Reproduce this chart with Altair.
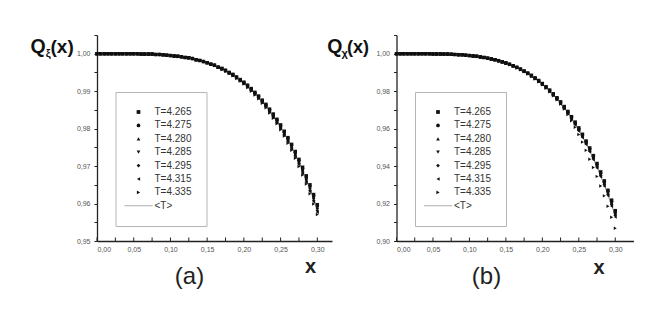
import altair as alt
import pandas as pd

# ---------------- data ----------------
X = [0.000, 0.005, 0.010, 0.015, 0.020, 0.025, 0.030, 0.035, 0.040, 0.045,
     0.050, 0.055, 0.060, 0.065, 0.070, 0.075, 0.080, 0.085, 0.090, 0.095,
     0.100, 0.105, 0.110, 0.115, 0.120, 0.125, 0.130, 0.135, 0.140, 0.145,
     0.150, 0.155, 0.160, 0.165, 0.170, 0.175, 0.180, 0.185, 0.190, 0.195,
     0.200, 0.205, 0.210, 0.215, 0.220, 0.225, 0.230, 0.235, 0.240, 0.245,
     0.250, 0.255, 0.260, 0.265, 0.270, 0.275, 0.280, 0.285, 0.290, 0.295,
     0.300]

SERIES = ["T=4.265", "T=4.275", "T=4.280", "T=4.285", "T=4.295", "T=4.315", "T=4.335"]
SHAPES = ["square", "circle", "triangle-up", "triangle-down", "diamond",
          "triangle-left", "triangle-right"]
MEAN_LABEL = "<T>"

# panel (a): Q_xi(x), x = 0.000 .. 0.165 identical for all T
QA_START = [1.0000, 1.0000, 1.0000, 1.0000, 1.0000, 1.0000, 1.0000, 1.0000,
            1.0000, 1.0000, 1.0000, 1.0000, 0.9999, 0.9999, 0.9999, 0.9999,
            0.9998, 0.9998, 0.9997, 0.9996, 0.9995, 0.9994, 0.9993, 0.9992,
            0.9990, 0.9989, 0.9987, 0.9984, 0.9982, 0.9979, 0.9976, 0.9972,
            0.9969, 0.9964]
QA_T4265 = QA_START + [0.9961, 0.9956, 0.9950, 0.9945, 0.9938, 0.9931, 0.9924, 0.9916, 0.9907,
                       0.9897, 0.9887, 0.9876, 0.9865, 0.9852, 0.9839, 0.9825, 0.9810, 0.9793,
                       0.9776, 0.9758, 0.9739, 0.9718, 0.9697, 0.9674, 0.9650, 0.9624, 0.9597]
QA_T4275 = QA_START + [0.9960, 0.9955, 0.9950, 0.9944, 0.9937, 0.9930, 0.9923, 0.9915, 0.9906,
                       0.9896, 0.9886, 0.9875, 0.9863, 0.9851, 0.9837, 0.9823, 0.9808, 0.9791,
                       0.9774, 0.9756, 0.9736, 0.9715, 0.9693, 0.9670, 0.9646, 0.9620, 0.9593]
QA_T4280 = QA_START + [0.9960, 0.9955, 0.9949, 0.9943, 0.9937, 0.9930, 0.9922, 0.9914, 0.9905,
                       0.9895, 0.9885, 0.9874, 0.9862, 0.9849, 0.9835, 0.9821, 0.9806, 0.9789,
                       0.9772, 0.9753, 0.9733, 0.9713, 0.9690, 0.9667, 0.9642, 0.9616, 0.9589]
QA_T4285 = QA_START + [0.9960, 0.9954, 0.9949, 0.9943, 0.9936, 0.9929, 0.9921, 0.9913, 0.9904,
                       0.9894, 0.9884, 0.9873, 0.9861, 0.9848, 0.9834, 0.9819, 0.9804, 0.9787,
                       0.9769, 0.9751, 0.9731, 0.9710, 0.9687, 0.9664, 0.9639, 0.9613, 0.9585]
QA_T4295 = QA_START + [0.9959, 0.9954, 0.9948, 0.9942, 0.9936, 0.9928, 0.9921, 0.9912, 0.9903,
                       0.9893, 0.9883, 0.9871, 0.9859, 0.9846, 0.9832, 0.9817, 0.9802, 0.9785,
                       0.9767, 0.9748, 0.9728, 0.9707, 0.9684, 0.9660, 0.9635, 0.9609, 0.9581]
QA_T4315 = QA_START + [0.9959, 0.9954, 0.9948, 0.9942, 0.9935, 0.9928, 0.9920, 0.9911, 0.9902,
                       0.9892, 0.9881, 0.9870, 0.9858, 0.9845, 0.9830, 0.9816, 0.9800, 0.9783,
                       0.9765, 0.9746, 0.9725, 0.9704, 0.9681, 0.9657, 0.9632, 0.9605, 0.9577]
QA_T4335 = QA_START + [0.9958, 0.9953, 0.9947, 0.9941, 0.9934, 0.9927, 0.9919, 0.9910, 0.9900,
                       0.9890, 0.9880, 0.9868, 0.9856, 0.9842, 0.9828, 0.9813, 0.9797, 0.9780,
                       0.9761, 0.9742, 0.9721, 0.9699, 0.9676, 0.9652, 0.9626, 0.9599, 0.9571]

# panel (b): Q_chi(x), x = 0.000 .. 0.135 identical for all T
QB_START = [1.0000, 1.0000, 1.0000, 1.0000, 1.0000, 1.0000, 1.0000, 1.0000,
            1.0000, 1.0000, 0.9999, 0.9999, 0.9999, 0.9998, 0.9998, 0.9997,
            0.9996, 0.9995, 0.9994, 0.9992, 0.9990, 0.9988, 0.9986, 0.9983,
            0.9980, 0.9976, 0.9972, 0.9968]
QB_T4265 = QB_START + [0.9963, 0.9957, 0.9951, 0.9944, 0.9936, 0.9928, 0.9918, 0.9908, 0.9897,
                       0.9885, 0.9871, 0.9857, 0.9841, 0.9824, 0.9806, 0.9786, 0.9765, 0.9743,
                       0.9718, 0.9692, 0.9664, 0.9635, 0.9604, 0.9570, 0.9534, 0.9497, 0.9456,
                       0.9414, 0.9369, 0.9321, 0.9271, 0.9218, 0.9162]
QB_T4275 = QB_START + [0.9963, 0.9957, 0.9951, 0.9944, 0.9936, 0.9927, 0.9918, 0.9907, 0.9896,
                       0.9883, 0.9870, 0.9855, 0.9840, 0.9822, 0.9804, 0.9784, 0.9763, 0.9740,
                       0.9716, 0.9689, 0.9661, 0.9631, 0.9600, 0.9566, 0.9530, 0.9491, 0.9451,
                       0.9408, 0.9362, 0.9314, 0.9265, 0.9210, 0.9154]
QB_T4280 = QB_START + [0.9962, 0.9957, 0.9950, 0.9943, 0.9935, 0.9926, 0.9917, 0.9906, 0.9895,
                       0.9882, 0.9869, 0.9854, 0.9838, 0.9821, 0.9802, 0.9782, 0.9761, 0.9737,
                       0.9713, 0.9686, 0.9658, 0.9628, 0.9596, 0.9561, 0.9525, 0.9486, 0.9445,
                       0.9402, 0.9357, 0.9307, 0.9256, 0.9202, 0.9145]
QB_T4285 = QB_START + [0.9962, 0.9956, 0.9950, 0.9943, 0.9935, 0.9926, 0.9916, 0.9906, 0.9894,
                       0.9882, 0.9868, 0.9853, 0.9837, 0.9820, 0.9801, 0.9781, 0.9759, 0.9736,
                       0.9711, 0.9685, 0.9656, 0.9626, 0.9594, 0.9559, 0.9523, 0.9484, 0.9442,
                       0.9399, 0.9353, 0.9303, 0.9252, 0.9198, 0.9141]
QB_T4295 = QB_START + [0.9962, 0.9956, 0.9950, 0.9942, 0.9934, 0.9926, 0.9916, 0.9905, 0.9894,
                       0.9881, 0.9867, 0.9852, 0.9836, 0.9819, 0.9800, 0.9780, 0.9758, 0.9735,
                       0.9710, 0.9683, 0.9654, 0.9624, 0.9591, 0.9557, 0.9520, 0.9481, 0.9440,
                       0.9396, 0.9349, 0.9300, 0.9249, 0.9194, 0.9137]
QB_T4315 = QB_START + [0.9962, 0.9956, 0.9949, 0.9942, 0.9934, 0.9925, 0.9915, 0.9904, 0.9893,
                       0.9880, 0.9866, 0.9851, 0.9835, 0.9817, 0.9798, 0.9778, 0.9756, 0.9732,
                       0.9707, 0.9680, 0.9651, 0.9620, 0.9587, 0.9553, 0.9515, 0.9476, 0.9434,
                       0.9390, 0.9343, 0.9293, 0.9241, 0.9186, 0.9128]
QB_T4335 = QB_START + [0.9961, 0.9955, 0.9948, 0.9941, 0.9933, 0.9924, 0.9914, 0.9903, 0.9891,
                       0.9878, 0.9865, 0.9850, 0.9834, 0.9816, 0.9797, 0.9776, 0.9754, 0.9731,
                       0.9705, 0.9675, 0.9642, 0.9607, 0.9569, 0.9528, 0.9484, 0.9437, 0.9392,
                       0.9345, 0.9294, 0.9241, 0.9185, 0.9127, 0.9068]

QA = [QA_T4265, QA_T4275, QA_T4280, QA_T4285, QA_T4295, QA_T4315, QA_T4335]
QB = [QB_T4265, QB_T4275, QB_T4280, QB_T4285, QB_T4295, QB_T4315, QB_T4335]

X_TICKS = [0.000, 0.025, 0.050, 0.075, 0.100, 0.125, 0.150, 0.175, 0.200,
           0.225, 0.250, 0.275, 0.300]
YA_TICKS = [0.950, 0.955, 0.960, 0.965, 0.970, 0.975, 0.980, 0.985, 0.990,
            0.995, 1.000, 1.005]
YB_TICKS = [0.90, 0.91, 0.92, 0.93, 0.94, 0.95, 0.96, 0.97, 0.98, 0.99, 1.00, 1.01]

for lst in QA + QB:
    assert len(lst) == len(X)

FONT = "Liberation Sans"
LINE_PATH = "M-7.5,-0.22H7.5V0.22H-7.5Z"
HEIGHT = 206


def long_frame(lists):
    rows = []
    for name, vals in zip(SERIES, lists):
        for x, q in zip(X, vals):
            rows.append({"x": x, "q": q, "series": name})
    return pd.DataFrame(rows)


def text(txt, x, y, size, weight="normal", align="left", baseline="alphabetic", color="#111"):
    return alt.Chart(pd.DataFrame({"t": [txt]})).mark_text(
        align=align, baseline=baseline, fontSize=size, fontWeight=weight,
        font=FONT, color=color
    ).encode(text="t:N", x=alt.value(x), y=alt.value(y))


def comma(mod):
    return ("round(datum.value*1000) % " + str(mod) +
            " == 0 ? replace(format(datum.value, '.2f'), '.', ',') : ''")


def panel(lists, ydom, yticks, ymod, xdom, width, xt_x, xt_y, tag, tag_x,
          sub, q_x, sub_x, par_x, par_size):
    df = long_frame(lists)
    x_scale = alt.Scale(domain=xdom, nice=False, zero=False)
    x_enc = alt.X("x:Q", scale=x_scale,
                  axis=alt.Axis(values=X_TICKS, labelExpr=comma(50), title="x",
                                ticks=False, tickSize=0, labelOverlap=False,
                                titleX=xt_x, titleY=xt_y, titleAlign="center",
                                titleBaseline="middle", titleFontSize=20,
                                titleFontWeight="bold", titleFont=FONT,
                                titleColor="#222", labelPadding=4))
    y_enc = alt.Y("q:Q", scale=alt.Scale(domain=ydom, nice=False, zero=False),
                  axis=alt.Axis(values=yticks, labelExpr=comma(ymod), title=None,
                                labelPadding=4))
    legend = alt.Legend(title=None, orient="none", legendX=18.5, legendY=57,
                        padding=15, strokeColor="#b5b5b5", fillColor="white",
                        symbolSize=14, symbolOffset=3, symbolStrokeWidth=0,
                        labelOffset=11, labelFontSize=10, labelFont=FONT,
                        labelColor="#333", rowPadding=3.4)
    dom = SERIES + [MEAN_LABEL]
    # inward pointing x ticks, drawn at the axis tick values
    xticks = alt.Chart(pd.DataFrame({"x": X_TICKS})).mark_rule(
        color="#222", strokeWidth=1
    ).encode(x=x_enc, y=alt.value(HEIGHT), y2=alt.value(HEIGHT - 3.5))
    line = alt.Chart(df).transform_aggregate(
        q="mean(q)", groupby=["x"]
    ).mark_line(color="#9a9a9a", strokeWidth=1).encode(x=x_enc, y=y_enc)
    pts = alt.Chart(df).mark_point(filled=True, size=12, opacity=1).encode(
        x=x_enc, y=y_enc,
        shape=alt.Shape("series:N", scale=alt.Scale(domain=dom, range=SHAPES + [LINE_PATH]),
                        legend=legend),
        color=alt.Color("series:N", scale=alt.Scale(domain=dom, range=["#111"] * 7 + ["#9a9a9a"]),
                        legend=legend),
    )
    layers = [line, pts, xticks,
              text("Q", q_x, 17.7, 19.5, "bold"),
              text(sub, sub_x, 22, 11, "bold"),
              text("(x)", par_x, 17.7, par_size, "bold"),
              text(tag, tag_x, 242, 24, "normal", align="center", baseline="middle",
                   color="#222")]
    return alt.layer(*layers).properties(width=width, height=HEIGHT)


pa = panel(QA, [0.95, 1.005], YA_TICKS, 10, [0, 0.32], 235, 213, 25.5,
           "(a)", 92.5, "ξ", -66.5, -51.3, -46.5, 19)
pb = panel(QB, [0.90, 1.01], YB_TICKS, 20, [0, 0.325], 237, 202, 26.5,
           "(b)", 90, "χ", -69.3, -55.0, -49.5, 18)

chart = alt.hconcat(pa, pb, spacing=64.5, bounds="flush").resolve_scale(
    x="independent", y="independent", color="independent", shape="independent"
).properties(
    padding={"left": 22, "top": 26, "right": 5, "bottom": 5}
).configure_view(stroke=None).configure_axis(
    grid=False, labelFont=FONT, labelFontSize=7, labelColor="#555",
    tickColor="#222", tickSize=3, tickWidth=1, domainColor="#222", domainWidth=1.3
)

chart.save("out.html", embed_options={"renderer": "svg", "actions": False})
